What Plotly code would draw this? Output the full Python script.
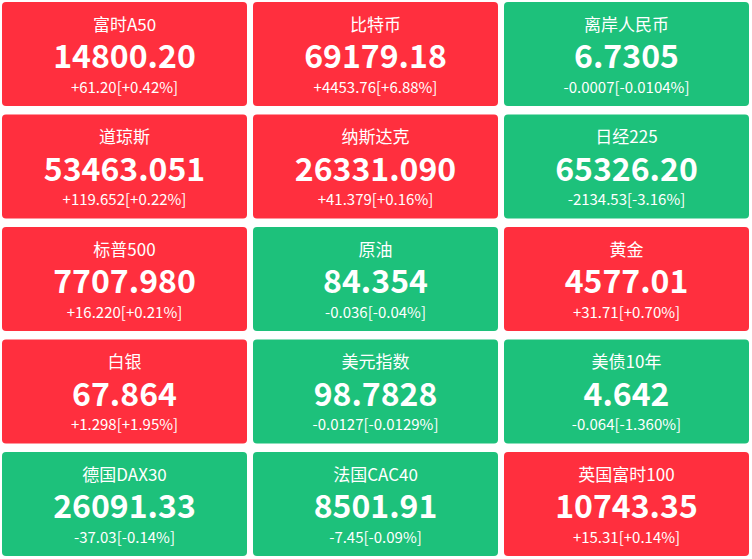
import plotly.graph_objects as go

names = ["富时A50", "比特币", "离岸人民币", "道琼斯", "纳斯达克", "日经225",
         "标普500", "原油", "黄金", "白银", "美元指数", "美债10年",
         "德国DAX30", "法国CAC40", "英国富时100"]
values = [14800.20, 69179.18, 6.7305, 53463.051, 26331.090, 65326.20,
          7707.980, 84.354, 4577.01, 67.864, 98.7828, 4.642,
          26091.33, 8501.91, 10743.35]
value_decimals = [2, 2, 4, 3, 3, 2, 3, 3, 2, 3, 4, 3, 2, 2, 2]
changes = [61.20, 4453.76, -0.0007, 119.652, 41.379, -2134.53,
           16.220, -0.036, 31.71, 1.298, -0.0127, -0.064,
           -37.03, -7.45, 15.31]
pcts = [0.42, 6.88, -0.0104, 0.22, 0.16, -3.16,
        0.21, -0.04, 0.70, 1.95, -0.0129, -1.360,
        -0.14, -0.09, 0.14]
pct_decimals = [2, 2, 4, 2, 2, 2, 2, 2, 2, 2, 4, 3, 2, 2, 2]

RED = "#FF2F3E"
GREEN = "#1DC17B"
W, H = 752, 559
NCOL = 3
X0, Y0 = 2, 2
PITCH_X, PITCH_Y = 251, 112.5
TILE_W, TILE_H = 245, 104
R = 4
FONT = "Noto Sans CJK SC, Microsoft YaHei, sans-serif"


def fmt_signed(v, d):
    s = f"{abs(v):.{d}f}"
    return ("+" if v >= 0 else "-") + s


def rounded_rect(x0, y0, x1, y1, r):
    return (f"M{x0+r},{y0} L{x1-r},{y0} Q{x1},{y0} {x1},{y0+r} "
            f"L{x1},{y1-r} Q{x1},{y1} {x1-r},{y1} L{x0+r},{y1} "
            f"Q{x0},{y1} {x0},{y1-r} L{x0},{y0+r} Q{x0},{y0} {x0+r},{y0} Z")


shapes = []
cx, ty, vy, cy = [], [], [], []
val_txt, chg_txt = [], []
for i, name in enumerate(names):
    col, row = i % NCOL, i // NCOL
    left = X0 + col * PITCH_X
    top = Y0 + row * PITCH_Y
    color = RED if changes[i] >= 0 else GREEN
    shapes.append(dict(type="path", xref="x", yref="y",
                       path=rounded_rect(left, top, left + TILE_W, top + TILE_H, R),
                       fillcolor=color, line=dict(width=0), layer="below"))
    cx.append(left + TILE_W / 2)
    ty.append(top + 24.5)
    vy.append(top + 58)
    cy.append(top + 87)
    val_txt.append(f"{values[i]:.{value_decimals[i]}f}")
    chg_txt.append(fmt_signed(changes[i], value_decimals[i]) + "[" +
                   fmt_signed(pcts[i], pct_decimals[i]) + "%]")

fig = go.Figure()
fig.add_trace(go.Scatter(x=cx, y=ty, text=names, mode="text",
                         textposition="middle center",
                         textfont=dict(family=FONT, size=17, color="white"),
                         hoverinfo="skip"))
fig.add_trace(go.Scatter(x=cx, y=vy, text=val_txt, mode="text",
                         textposition="middle center",
                         textfont=dict(family=FONT, size=32, color="white", weight="bold"),
                         hoverinfo="skip"))
fig.add_trace(go.Scatter(x=cx, y=cy, text=chg_txt, mode="text",
                         textposition="middle center",
                         textfont=dict(family=FONT, size=15, color="white"),
                         hoverinfo="skip"))

fig.update_layout(
    width=W, height=H,
    margin=dict(l=0, r=0, t=0, b=0),
    paper_bgcolor="white", plot_bgcolor="white",
    showlegend=False,
    shapes=shapes,
    xaxis=dict(range=[0, W], visible=False, fixedrange=True),
    yaxis=dict(range=[H, 0], visible=False, fixedrange=True),
)
fig.write_html("out.html", config={"displayModeBar": False},
               post_script="document.body.style.margin='0';document.body.style.overflow='hidden';")
